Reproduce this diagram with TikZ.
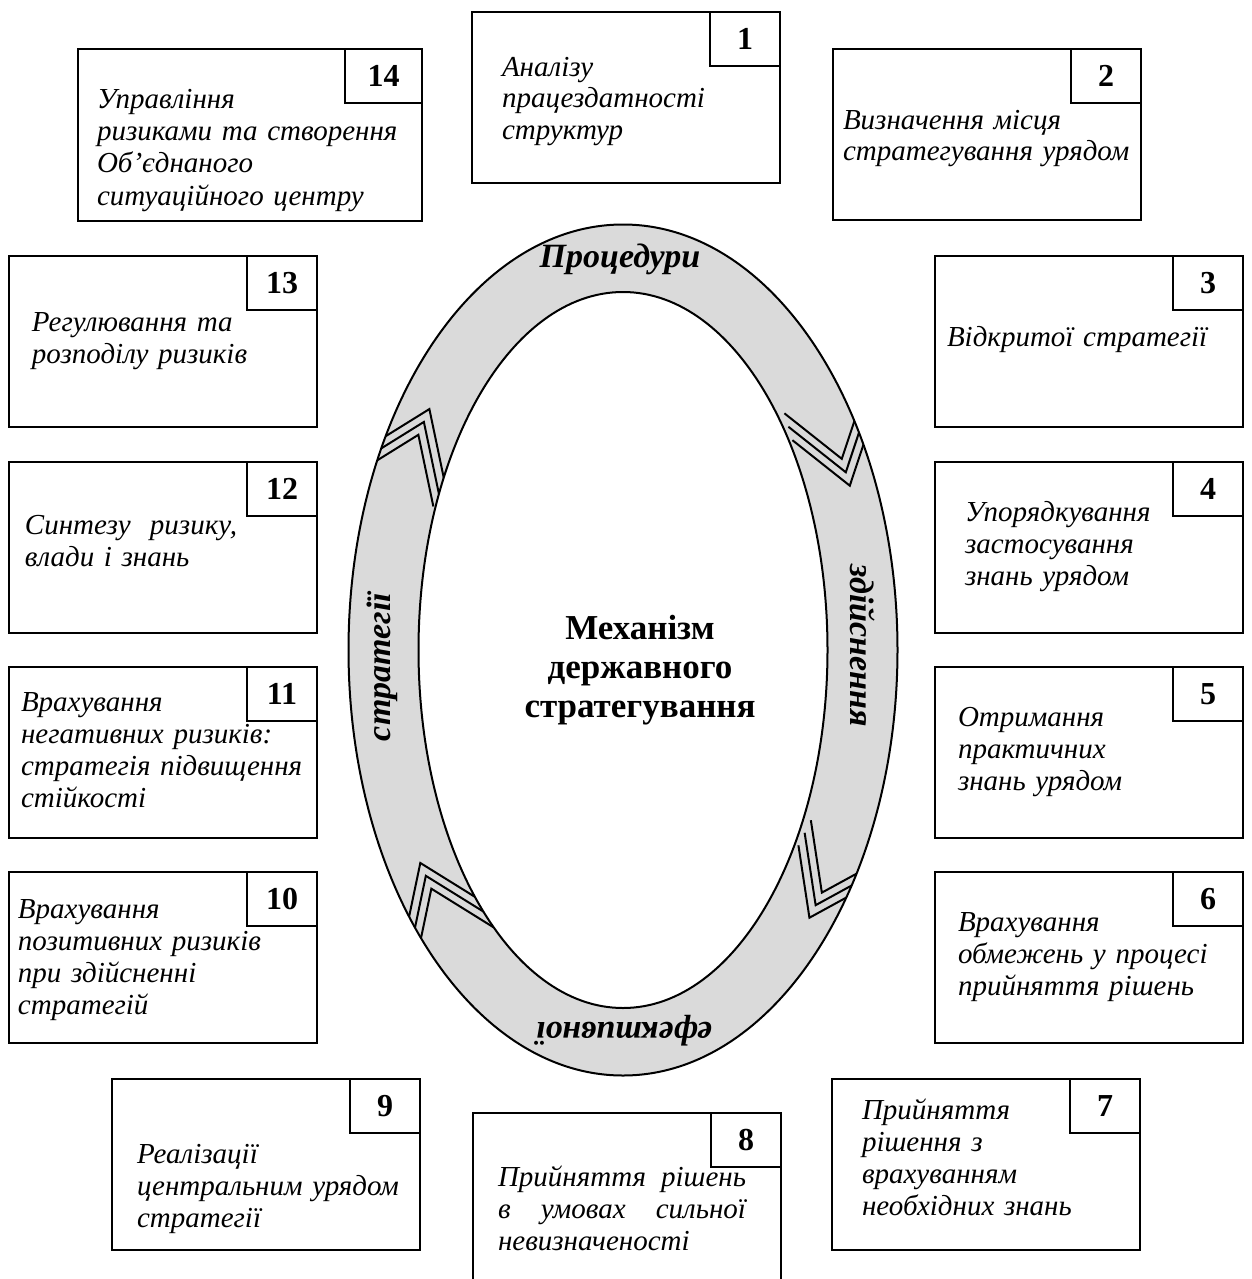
\documentclass[tikz,border=0pt]{standalone}
\usepackage{fontspec}
\setmainfont{Liberation Serif}
\usetikzlibrary{positioning}
\definecolor{ringgray}{RGB}{218,218,218}

\begin{document}
\begin{tikzpicture}
  [x=0.5pt, y=-0.5pt,
   every node/.style = {inner sep=0pt, outer sep=0pt},
   box/.style = {draw, line width=1.3pt, anchor=north west,
                 minimum width=154pt, minimum height=85.5pt},
   num/.style = {draw, line width=0.7pt, anchor=north east,
                 minimum width=35pt, minimum height=27pt,
                 font=\fontsize{16pt}{18pt}\selectfont\bfseries},
   txt/.style = {anchor=base west, align=left, text width=180pt,
                 font=\fontsize{14.5pt}{16pt}\selectfont\itshape},
   ringtext/.style = {font=\fontsize{17pt}{20pt}\selectfont\bfseries\itshape},
   chev/.style = {line width=1pt, line join=miter}]
  \useasboundingbox (0,0) rectangle (1252,1279);

  % the ring
  \coordinate (c) at (623,650);
  \fill[ringgray, even odd rule]
    (c) ellipse [x radius=274.5, y radius=425.5]
    (c) ellipse [x radius=204.5, y radius=358];
  \draw[line width=1pt] (c) ellipse [x radius=274.5, y radius=425.5];
  \draw[line width=1pt] (c) ellipse [x radius=204.5, y radius=358];

  % chevrons on the ring
  \begin{scope}[even odd rule]
    \clip (c) ellipse [x radius=274.5, y radius=425.5]
          (c) ellipse [x radius=204.5, y radius=358];
    \foreach \t/\k in {215/1.015, 334/1.035, 39/1.035, 145/1.005} {
      \pgfmathsetmacro\px{623+239.5*\k*cos(\t)}
      \pgfmathsetmacro\py{650+391.75*\k*sin(\t)}
      \pgfmathsetmacro\chx{-239.5*sin(\t)}
      \pgfmathsetmacro\chy{391.75*cos(\t)}
      \pgfmathsetmacro\chl{veclen(\chx,\chy)}
      \pgfmathsetmacro\ux{\chx/\chl}
      \pgfmathsetmacro\uy{\chy/\chl}
      \foreach \s in {14,0,-14}
        \draw[chev]
          ({\px+(\s-60)*\ux+42*\uy},{\py+(\s-60)*\uy-42*\ux})
          -- ({\px+\s*\ux},{\py+\s*\uy})
          -- ({\px+(\s-60)*\ux-42*\uy},{\py+(\s-60)*\uy+42*\ux});
    }
  \end{scope}

  \node[ringtext, anchor=base] (proc) at (620,267) {Процедури};
  \node[ringtext, rotate=-90] (zdiysn) at (863,646) {здійснення};
  \node[ringtext, rotate=180] (efekt) at (624,1031) {ефективної};
  \node[ringtext, rotate=90] (strat) at (382,667) {стратегії};

  \node[align=center, font=\fontsize{17.5pt}{19.5pt}\selectfont\bfseries]
    (mech) at (640,670) {Механізм\\державного\\стратегування};

  % boxes
  \node[box] (b1) at (472,12) {};
  \node[box] (b2) at (833,49) {};
  \node[box] (b3) at (935,256) {};
  \node[box] (b4) at (935,462) {};
  \node[box] (b5) at (935,667) {};
  \node[box] (b6) at (935,872) {};
  \node[box] (b7) at (832,1079) {};
  \node[box] (b8) at (473,1113) {};
  \node[box] (b9) at (112,1079) {};
  \node[box] (b10) at (9,872) {};
  \node[box] (b11) at (9,667) {};
  \node[box] (b12) at (9,462) {};
  \node[box] (b13) at (9,256) {};
  \node[box, minimum width=172pt, minimum height=86pt] (b14) at (78,49) {};

  % numbers
  \foreach \i in {1,...,13}
    \node[num] (n\i) at (b\i.north east) {\i};
  \node[num, minimum width=38.5pt] (n14) at (b14.north east) {14};

  % texts
  \node[txt] (t1) at (502,76) {Аналізу\\працездатності\\структур};
  \node[txt] (t2) at (843,129) {Визначення місця\\стратегування урядом};
  \node[txt] (t3) at (947,346) {Відкритої стратегії};
  \node[txt] (t4) at (965,521) {Упорядкування\\застосування\\знань урядом};
  \node[txt] (t5) at (958,726) {Отримання\\практичних\\знань урядом};
  \node[txt] (t6) at (958,931) {Врахування\\обмежень у процесі\\прийняття рішень};
  \node[txt] (t7) at (862,1119) {Прийняття\\рішення з\\врахуванням\\необхідних знань};
  \node[txt, text width=124pt] (t8) at (498,1186)
    {Прийняття\hfill рішень\\в\hfill умовах\hfill сильної\\невизначеності};
  \node[txt] (t9) at (137,1163) {Реалізації\\центральним урядом\\стратегії};
  \node[txt] (t10) at (18,918) {Врахування\\позитивних ризиків\\при здійсненні\\стратегій};
  \node[txt] (t11) at (21,711) {Врахування\\негативних ризиків:\\стратегія підвищення\\стійкості};
  \node[txt] (t12) at (25,534) {Синтезу\ \ ризику,\\влади і знань};
  \node[txt] (t13) at (32,331) {Регулювання та\\розподілу ризиків};
  \node[txt] (t14) at (97,109) {Управління\\ризиками та створення\\Об’єднаного\\ситуаційного центру};
\end{tikzpicture}
\end{document}
